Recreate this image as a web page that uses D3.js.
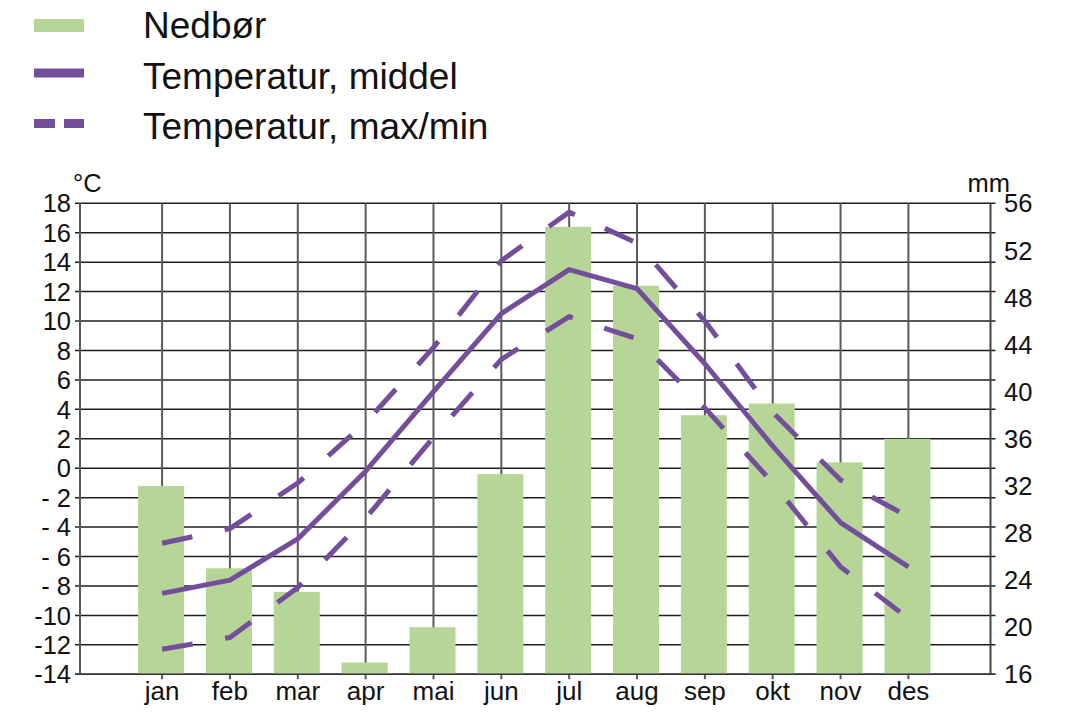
<!DOCTYPE html>
<html>
<head>
<meta charset="utf-8">
<script src="https://cdn.jsdelivr.net/npm/d3@7"></script>
<style>
  body { margin: 0; background: #fff; }
  svg { display: block; font-family: "Liberation Sans", Arial, sans-serif; }
</style>
</head>
<body>
<script>
const MONTHS = ['jan', 'feb', 'mar', 'apr', 'mai', 'jun', 'jul', 'aug', 'sep', 'okt', 'nov', 'des'];
const PRECIP = [32, 25, 23, 17, 20, 33, 54, 49, 38, 39, 34, 36];
const TEMP_MEAN = [-8.5, -7.6, -4.8, -0.2, 5.2, 10.5, 13.5, 12.2, 7.1, 1.5, -3.7, -6.7];
const TEMP_MAX = [-5.1, -4.1, -1.0, 3.1, 8.2, 14.1, 17.4, 15.3, 10.0, 3.8, -0.8, -3.3];
const TEMP_MIN = [-12.3, -11.5, -8.1, -3.4, 2.1, 7.4, 10.3, 8.8, 4.1, -1.0, -6.7, -10.2];
const TEMP_TICKS = d3.range(-14, 19, 2);
const MM_TICKS = d3.range(16, 57, 4);
const LEGEND = ['Nedbør', 'Temperatur, middel', 'Temperatur, max/min'];

const GREEN = '#b7d597';
const PURPLE = '#734f9b';

drawChart();

function drawChart() {
  const W = 1079, H = 724;
  const plotLeft = 80, plotRight = 990.5, plotTop = 203.3, plotBottom = 674.3;

  const svg = d3.select('body').append('svg')
    .attr('width', W)
    .attr('height', H);

  const x = d3.scalePoint()
    .domain(MONTHS)
    .range([plotLeft, plotRight])
    .padding(1.21);

  const yT = d3.scaleLinear().domain([-14, 18]).range([plotBottom, plotTop]);
  const yP = d3.scaleLinear().domain([16, 56]).range([plotBottom, plotTop]);

  // grid
  const grid = svg.append('g');
  grid.selectAll('.h').data(TEMP_TICKS).join('line')
    .attr('class', 'h')
    .attr('x1', plotLeft - 5).attr('x2', plotRight + 5)
    .attr('y1', d => yT(d)).attr('y2', d => yT(d))
    .attr('stroke', '#1e1e1e').attr('stroke-width', 1.5);
  grid.selectAll('.v').data(MONTHS).join('line')
    .attr('class', 'v')
    .attr('x1', d => x(d)).attr('x2', d => x(d))
    .attr('y1', plotTop).attr('y2', plotBottom + 5)
    .attr('stroke', '#5a5a5a').attr('stroke-width', 2);

  // bars
  const bw = 46;
  svg.append('g').selectAll('rect').data(PRECIP).join('rect')
    .attr('x', (d, i) => x(MONTHS[i]) - bw / 2 - 1)
    .attr('width', bw)
    .attr('y', d => yP(d))
    .attr('height', d => plotBottom - yP(d))
    .attr('fill', GREEN);

  // frame
  svg.append('line').attr('x1', plotLeft).attr('x2', plotLeft).attr('y1', plotTop).attr('y2', plotBottom)
    .attr('stroke', '#5a5a5a').attr('stroke-width', 2);
  svg.append('line').attr('x1', plotRight).attr('x2', plotRight).attr('y1', plotTop).attr('y2', plotBottom)
    .attr('stroke', '#444').attr('stroke-width', 2);
  svg.append('line').attr('x1', plotLeft - 5).attr('x2', plotRight + 5).attr('y1', plotBottom).attr('y2', plotBottom)
    .attr('stroke', '#333').attr('stroke-width', 1.6);

  // temperature lines
  const line = d3.line()
    .x((d, i) => x(MONTHS[i]))
    .y(d => yT(d));

  [[TEMP_MEAN, null], [TEMP_MAX, '31,33'], [TEMP_MIN, '31,33']].forEach(([data, dash]) => {
    svg.append('path')
      .datum(data)
      .attr('d', line)
      .attr('fill', 'none')
      .attr('stroke', PURPLE)
      .attr('stroke-width', 5)
      .attr('stroke-linejoin', 'round')
      .attr('stroke-dasharray', dash);
  });

  // axis labels
  const fmt = v => v < 0 ? (Math.abs(v) < 10 ? '- ' + Math.abs(v) : '-' + Math.abs(v)) : String(v);
  svg.append('g').selectAll('text').data(TEMP_TICKS).join('text')
    .attr('x', 71).attr('y', d => yT(d))
    .attr('dy', '0.36em')
    .attr('text-anchor', 'end')
    .attr('font-size', 25.5)
    .attr('fill', '#111')
    .text(fmt);

  svg.append('g').selectAll('text').data(MM_TICKS).join('text')
    .attr('x', 1004).attr('y', d => yP(d))
    .attr('dy', '0.36em')
    .attr('font-size', 25.5)
    .attr('fill', '#111')
    .text(d => d);

  svg.append('g').selectAll('text').data(MONTHS).join('text')
    .attr('x', d => x(d)).attr('y', 700)
    .attr('text-anchor', 'middle')
    .attr('font-size', 26)
    .attr('fill', '#111')
    .text(d => d);

  svg.append('text').attr('x', 73).attr('y', 192).attr('font-size', 25.5).attr('fill', '#111').text('°C');
  svg.append('text').attr('x', 1010).attr('y', 192).attr('text-anchor', 'end').attr('font-size', 25.5).attr('fill', '#111').text('mm');

  // legend
  const lg = svg.append('g');
  lg.append('rect').attr('x', 34).attr('y', 19).attr('width', 50).attr('height', 13).attr('fill', GREEN);
  lg.append('line').attr('x1', 34).attr('x2', 84).attr('y1', 73).attr('y2', 73)
    .attr('stroke', PURPLE).attr('stroke-width', 9);
  lg.append('line').attr('x1', 34).attr('x2', 84).attr('y1', 123.5).attr('y2', 123.5)
    .attr('stroke', PURPLE).attr('stroke-width', 9).attr('stroke-dasharray', '21,9');
  lg.selectAll('text').data(LEGEND).join('text')
    .attr('x', 143)
    .attr('y', (d, i) => 38 + i * 50.5)
    .attr('font-size', 37)
    .attr('fill', '#111')
    .text(d => d);
}
</script>
</body>
</html>
